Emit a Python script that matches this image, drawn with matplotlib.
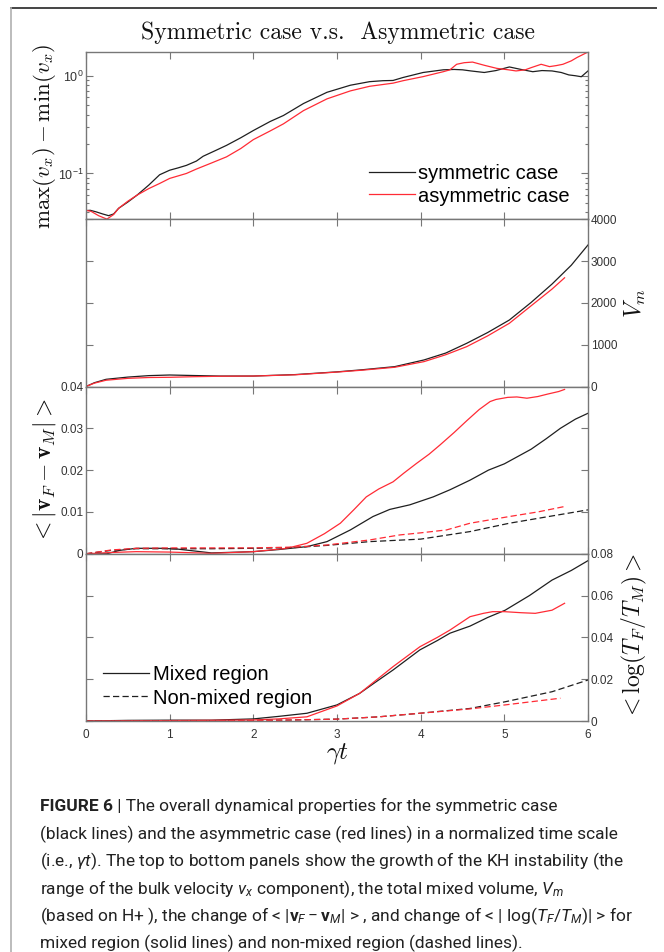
import matplotlib
matplotlib.use('Agg')
import matplotlib.pyplot as plt
from matplotlib import font_manager as fm
from matplotlib.lines import Line2D
from matplotlib.ticker import FixedLocator, FuncFormatter, NullFormatter, LogLocator

# ---------------- data ----------------
# range of v_x : max(v_x) - min(v_x)
t_rng_sym = [0.00, 0.05, 0.12, 0.20, 0.27, 0.33, 0.39, 0.50, 0.61, 0.75, 0.88, 1.00, 1.10, 1.20,
             1.32, 1.40, 1.55, 1.68, 1.85, 2.00, 2.20, 2.36, 2.60, 2.88, 3.16, 3.39, 3.55, 3.67,
             3.79, 4.03, 4.27, 4.40, 4.50, 4.60, 4.76, 4.90, 5.06, 5.20, 5.34, 5.45, 5.57, 5.68,
             5.77, 5.85, 5.92, 6.00]
rng_sym = [0.0417, 0.042, 0.0405, 0.0385, 0.037, 0.0385, 0.044, 0.051, 0.060, 0.076, 0.097, 0.108,
           0.114, 0.121, 0.134, 0.150, 0.172, 0.194, 0.232, 0.275, 0.34, 0.392, 0.52, 0.677, 0.80,
           0.87, 0.89, 0.895, 0.96, 1.08, 1.15, 1.16, 1.15, 1.12, 1.08, 1.13, 1.23, 1.16, 1.10,
           1.13, 1.12, 1.08, 1.02, 1.00, 0.977, 1.12]
t_rng_asym = [0.00, 0.06, 0.15, 0.25, 0.33, 0.39, 0.50, 0.61, 0.75, 0.88, 1.00, 1.20, 1.32, 1.50,
              1.68, 1.85, 2.00, 2.20, 2.36, 2.60, 2.88, 3.16, 3.39, 3.67, 3.79, 4.03, 4.27, 4.35,
              4.43, 4.52, 4.62, 4.76, 4.91, 5.05, 5.14, 5.25, 5.32, 5.44, 5.54, 5.62, 5.70, 5.80,
              5.87, 6.00]
rng_asym = [0.042, 0.041, 0.037, 0.0341, 0.038, 0.044, 0.052, 0.060, 0.070, 0.079, 0.089, 0.100,
            0.111, 0.128, 0.148, 0.180, 0.222, 0.272, 0.322, 0.44, 0.58, 0.70, 0.78, 0.84, 0.89,
            0.98, 1.10, 1.15, 1.31, 1.36, 1.38, 1.28, 1.19, 1.15, 1.12, 1.15, 1.21, 1.31, 1.24,
            1.27, 1.31, 1.42, 1.54, 1.75]

# total mixed volume V_m
t_vm_sym = [0, 0.1, 0.24, 0.5, 0.75, 1.0, 1.3, 1.6, 2.0, 2.5, 3.0, 3.3, 3.69, 4.04, 4.3, 4.55,
            4.8, 5.06, 5.32, 5.57, 5.8, 6.0]
vm_sym = [0, 90, 172, 225, 260, 275, 262, 250, 250, 285, 350, 400, 475, 635, 800, 1033, 1290,
          1590, 2010, 2450, 2900, 3385]
t_vm_asym = [0, 0.1, 0.24, 0.5, 0.75, 1.0, 1.3, 1.6, 2.0, 2.5, 3.0, 3.3, 3.69, 4.04, 4.3, 4.55,
             4.8, 5.06, 5.32, 5.57, 5.72]
vm_asym = [0, 80, 150, 195, 215, 220, 235, 245, 250, 280, 345, 390, 460, 595, 760, 953, 1210,
           1512, 1930, 2330, 2600]

# < |v_F - v_M| >
t_dv_mix_sym = [0, 0.25, 0.4, 0.6, 0.9, 1.1, 1.5, 2.0, 2.3, 2.64, 2.88, 3.16, 3.43, 3.63, 3.87,
                4.15, 4.35, 4.59, 4.81, 5.0, 5.32, 5.5, 5.67, 5.85, 6.0]
dv_mix_sym = [0, 0, 0.0008, 0.0013, 0.0013, 0.0011, 0.0002, 0.0005, 0.0010, 0.0017, 0.0029,
              0.0057, 0.0089, 0.0106, 0.0117, 0.0136, 0.0153, 0.0176, 0.0200, 0.0215, 0.0250,
              0.0275, 0.0300, 0.0322, 0.0336]
t_dv_mix_asym = [0, 0.3, 0.6, 1.0, 1.5, 2.0, 2.2, 2.4, 2.64, 2.85, 3.04, 3.2, 3.35, 3.5, 3.67,
                 3.8, 3.95, 4.1, 4.23, 4.4, 4.55, 4.7, 4.83, 4.9, 5.04, 5.15, 5.27, 5.4, 5.52,
                 5.65, 5.72]
dv_mix_asym = [0, 0.0003, 0.0005, 0.0004, 0.0001, 0.0005, 0.0009, 0.0013, 0.0025, 0.0048,
               0.0073, 0.0105, 0.0136, 0.0155, 0.0172, 0.0193, 0.0216, 0.0238, 0.0260, 0.0290,
               0.0318, 0.0345, 0.0364, 0.0369, 0.0374, 0.0375, 0.0372, 0.0376, 0.0382, 0.0388,
               0.0393]
t_dv_non_sym = [0, 0.3, 0.6, 1.0, 1.5, 2.0, 2.5, 2.88, 3.39, 4.0, 4.59, 5.06, 5.5, 6.0]
dv_non_sym = [0, 0.0008, 0.0012, 0.0012, 0.0012, 0.0013, 0.0015, 0.0020, 0.0029, 0.0035,
              0.0053, 0.0073, 0.0088, 0.0105]
t_dv_non_asym = [0, 0.3, 0.6, 1.0, 1.5, 2.0, 2.5, 2.88, 3.39, 3.75, 4.0, 4.31, 4.59, 5.06, 5.4,
                 5.72]
dv_non_asym = [0, 0.0009, 0.0013, 0.0014, 0.0014, 0.0014, 0.0016, 0.0021, 0.0033, 0.0045,
               0.0050, 0.0057, 0.0073, 0.0089, 0.0100, 0.0113]

# < log(T_F / T_M) >
t_dT_mix_sym = [0, 0.5, 1.0, 1.5, 2.0, 2.3, 2.64, 3.0, 3.27, 3.44, 3.67, 3.99, 4.2, 4.35, 4.59,
                4.8, 5.01, 5.3, 5.57, 5.8, 6.0]
dT_mix_sym = [0, 0.0003, 0.0004, 0.0004, 0.0010, 0.0022, 0.0037, 0.0077, 0.0132, 0.0180, 0.0244,
              0.0340, 0.0385, 0.0420, 0.0454, 0.0495, 0.0530, 0.0600, 0.0674, 0.0720, 0.0767]
t_dT_mix_asym = [0, 1.0, 2.0, 2.3, 2.64, 3.0, 3.27, 3.67, 3.99, 4.2, 4.35, 4.59, 4.75, 4.86, 5.0,
                 5.2, 5.37, 5.57, 5.72]
dT_mix_asym = [0, 0.0002, 0.0005, 0.0010, 0.0020, 0.0072, 0.0132, 0.0260, 0.0355, 0.0400,
               0.0435, 0.0499, 0.0515, 0.0523, 0.0523, 0.0518, 0.0515, 0.0530, 0.0563]
t_dT_non_sym = [0, 1.0, 2.0, 2.5, 3.0, 3.5, 3.99, 4.59, 5.01, 5.57, 6.0]
dT_non_sym = [0, 0.0001, 0.0002, 0.0005, 0.0009, 0.0020, 0.0037, 0.0060, 0.0092, 0.0140, 0.0196]
t_dT_non_asym = [0, 1.0, 2.0, 2.5, 3.0, 3.5, 3.99, 4.59, 5.01, 5.67]
dT_non_asym = [0, 0.0001, 0.0002, 0.0005, 0.0009, 0.0020, 0.0037, 0.0058, 0.0077, 0.0109]

x_ticks = [0, 1, 2, 3, 4, 5, 6]
vm_ticks = [0, 1000, 2000, 3000, 4000]
dv_ticks = [0, 0.01, 0.02, 0.03, 0.04]
dT_ticks = [0, 0.02, 0.04, 0.06, 0.08]

title_text = 'Symmetric case v.s.  Asymmetric case'
case_labels = ['symmetric case', 'asymmetric case']
region_labels = ['Mixed region', 'Non-mixed region']

caption_head = 'FIGURE 6'
caption_lines = [
    ' | The overall dynamical properties for the symmetric case',
    '(black lines) and the asymmetric case (red lines) in a normalized time scale',
    r'(i.e., $\gamma t$). The top to bottom panels show the growth of the KH instability (the',
    r'range of the bulk velocity $v_x$ component), the total mixed volume, $V_m$',
    r'(based on H+ ), the change of < |$\mathbf{v}_F - \mathbf{v}_M$| > , and change of < | log($T_F$/$T_M$)| > for',
    'mixed region (solid lines) and non-mixed region (dashed lines).',
]

# ---------------- style ----------------
def has_font(name):
    try:
        fm.findfont(fm.FontProperties(family=name), fallback_to_default=False)
        return True
    except Exception:
        return False


CAP_FONT = 'Roboto' if has_font('Roboto') else 'Liberation Sans'
SERIF = 'cmr10' if has_font('cmr10') else 'DejaVu Serif'

plt.rcParams['font.family'] = ['Liberation Sans', 'DejaVu Sans']
plt.rcParams['mathtext.fontset'] = 'cm'
plt.rcParams['mathtext.rm'] = CAP_FONT
plt.rcParams['mathtext.it'] = CAP_FONT + ':italic'
plt.rcParams['mathtext.bf'] = CAP_FONT + ':bold'

RED = '#ff2b35'
BLK = '#1f1f1f'
AXC = '#777777'
TXT = '#333333'
LW = 0.9
DASH = (5, 2.6)

W, H = 664, 952
fig = plt.figure(figsize=(W / 100, H / 100), dpi=100)
fig.patch.set_facecolor('white')


def fx(px):
    return px / W


def fy(py):
    return 1 - py / H


L_PX, R_PX = 86, 588
edges = [52, 219.25, 386.5, 553.75, 721]
axes = []
for i in range(4):
    ax = fig.add_axes([fx(L_PX), fy(edges[i + 1]), (R_PX - L_PX) / W,
                       (edges[i + 1] - edges[i]) / H])
    ax.set_xlim(0, 6)
    ax.xaxis.set_major_locator(FixedLocator(x_ticks))
    for sp in ax.spines.values():
        sp.set_color(AXC)
        sp.set_linewidth(1.0)
    ax.tick_params(which='both', direction='in', top=True, bottom=True, left=True, right=True,
                   color=AXC, labelcolor=TXT, labelsize=8.5, width=0.8)
    ax.tick_params(which='major', length=5)
    ax.tick_params(which='minor', length=2.5)
    ax.tick_params(axis='x', labelbottom=False, pad=6)
    ax.tick_params(axis='y', pad=2)
    axes.append(ax)
ax1, ax2, ax3, ax4 = axes

fmt_g = FuncFormatter(lambda v, p: f'{v:g}')

# panel 1: growth of the KH instability
ax1.set_yscale('log')
ax1.set_ylim(0.034, 1.75)
ax1.yaxis.set_major_locator(LogLocator(base=10, numticks=10))
ax1.yaxis.set_minor_locator(LogLocator(base=10, subs=[2, 3, 4, 5, 6, 7, 8, 9], numticks=20))
ax1.yaxis.set_minor_formatter(NullFormatter())
ax1.tick_params(axis='y', labelleft=True, labelright=False, labelsize=9)
h_sym, = ax1.plot(t_rng_sym, rng_sym, color=BLK, lw=LW)
h_asym, = ax1.plot(t_rng_asym, rng_asym, color=RED, lw=LW)
ax1.legend([h_sym, h_asym], case_labels, loc='center left',
           bbox_to_anchor=(fx(369), fy(185)), bbox_transform=fig.transFigure,
           frameon=False, fontsize=14.5, handlelength=2.27, handletextpad=0.15,
           labelspacing=0.15, borderpad=0, borderaxespad=0)

# panel 2: mixed volume
ax2.set_ylim(0, 4000)
ax2.yaxis.set_major_locator(FixedLocator(vm_ticks))
ax2.yaxis.set_major_formatter(fmt_g)
ax2.tick_params(axis='y', labelleft=False, labelright=True)
ax2.plot(t_vm_sym, vm_sym, color=BLK, lw=LW)
ax2.plot(t_vm_asym, vm_asym, color=RED, lw=LW)

# panel 3: velocity difference
ax3.set_ylim(0, 0.04)
ax3.yaxis.set_major_locator(FixedLocator(dv_ticks))
ax3.yaxis.set_major_formatter(fmt_g)
ax3.tick_params(axis='y', labelleft=True, labelright=False)
ax3.plot(t_dv_mix_sym, dv_mix_sym, color=BLK, lw=LW)
ax3.plot(t_dv_mix_asym, dv_mix_asym, color=RED, lw=LW)
ax3.plot(t_dv_non_sym, dv_non_sym, color=BLK, lw=LW, dashes=DASH)
ax3.plot(t_dv_non_asym, dv_non_asym, color=RED, lw=LW, dashes=DASH)

# panel 4: temperature ratio
ax4.set_ylim(0, 0.08)
ax4.yaxis.set_major_locator(FixedLocator(dT_ticks))
ax4.yaxis.set_major_formatter(fmt_g)
ax4.tick_params(axis='y', labelleft=False, labelright=True)
ax4.tick_params(axis='x', labelbottom=True)
ax4.xaxis.set_major_formatter(fmt_g)
h_mix, = ax4.plot(t_dT_mix_sym, dT_mix_sym, color=BLK, lw=LW)
ax4.plot(t_dT_mix_asym, dT_mix_asym, color=RED, lw=LW)
h_non, = ax4.plot(t_dT_non_sym, dT_non_sym, color=BLK, lw=LW, dashes=DASH)
ax4.plot(t_dT_non_asym, dT_non_asym, color=RED, lw=LW, dashes=DASH)
ax4.legend([h_mix, h_non], region_labels, loc='center left',
           bbox_to_anchor=(fx(103), fy(686.5)), bbox_transform=fig.transFigure,
           frameon=False, fontsize=14.5, handlelength=2.27, handletextpad=0.22,
           labelspacing=0.2, borderpad=0, borderaxespad=0)

# titles in Computer Modern
cm = dict(math_fontfamily='cm', color='#111111', ha='center', va='center')
fig.text(fx(338), fy(33), title_text, fontsize=17, family=SERIF, color='#111111',
         ha='center', va='center')
fig.text(fx(45), fy(136), r'$\max(v_x) - \min(v_x)$', fontsize=16.5, rotation=90, **cm)
fig.text(fx(635), fy(303), r'$V_m$', fontsize=17, rotation=90, **cm)
fig.text(fx(45), fy(471), r'$< |\mathbf{v}_F - \mathbf{v}_M| >$', fontsize=17, rotation=90, **cm)
fig.text(fx(634), fy(637), r'$< \log(T_F/T_M) >$', fontsize=17, rotation=90, **cm)
fig.text(fx(338), fy(753), r'$\gamma t$', fontsize=18, **cm)

# outer frame
fig.add_artist(Line2D([fx(11), fx(656)], [fy(8), fy(8)], transform=fig.transFigure,
                      color='#444444', lw=1.4))
fig.add_artist(Line2D([fx(11), fx(11)], [fy(8), fy(952)], transform=fig.transFigure,
                      color='#b0b0b0', lw=1.2))

# caption, sized so that the longest line spans the text block
renderer = fig.canvas.get_renderer()
probe = fig.text(0, 0, caption_lines[1], fontsize=10, family=CAP_FONT)
w10 = probe.get_window_extent(renderer).width
probe.remove()
cap_size = 10 * 582 / w10
cap_px = cap_size * 100 / 72
CAP_X = 40
centers = [805, 832.5, 860, 887.5, 915, 942]
cap_kw = dict(fontsize=cap_size, family=CAP_FONT, color='#222222', va='baseline', ha='left',
              math_fontfamily='custom')
head = fig.text(fx(CAP_X), fy(centers[0] + 0.36 * cap_px), caption_head, fontweight='bold', **cap_kw)
head_w = head.get_window_extent(renderer).width
fig.text(fx(CAP_X + head_w), fy(centers[0] + 0.36 * cap_px), caption_lines[0], **cap_kw)
for yc, line in zip(centers[1:], caption_lines[1:]):
    fig.text(fx(CAP_X), fy(yc + 0.36 * cap_px), line, **cap_kw)

fig.savefig('out.png', dpi=100, facecolor='white')
